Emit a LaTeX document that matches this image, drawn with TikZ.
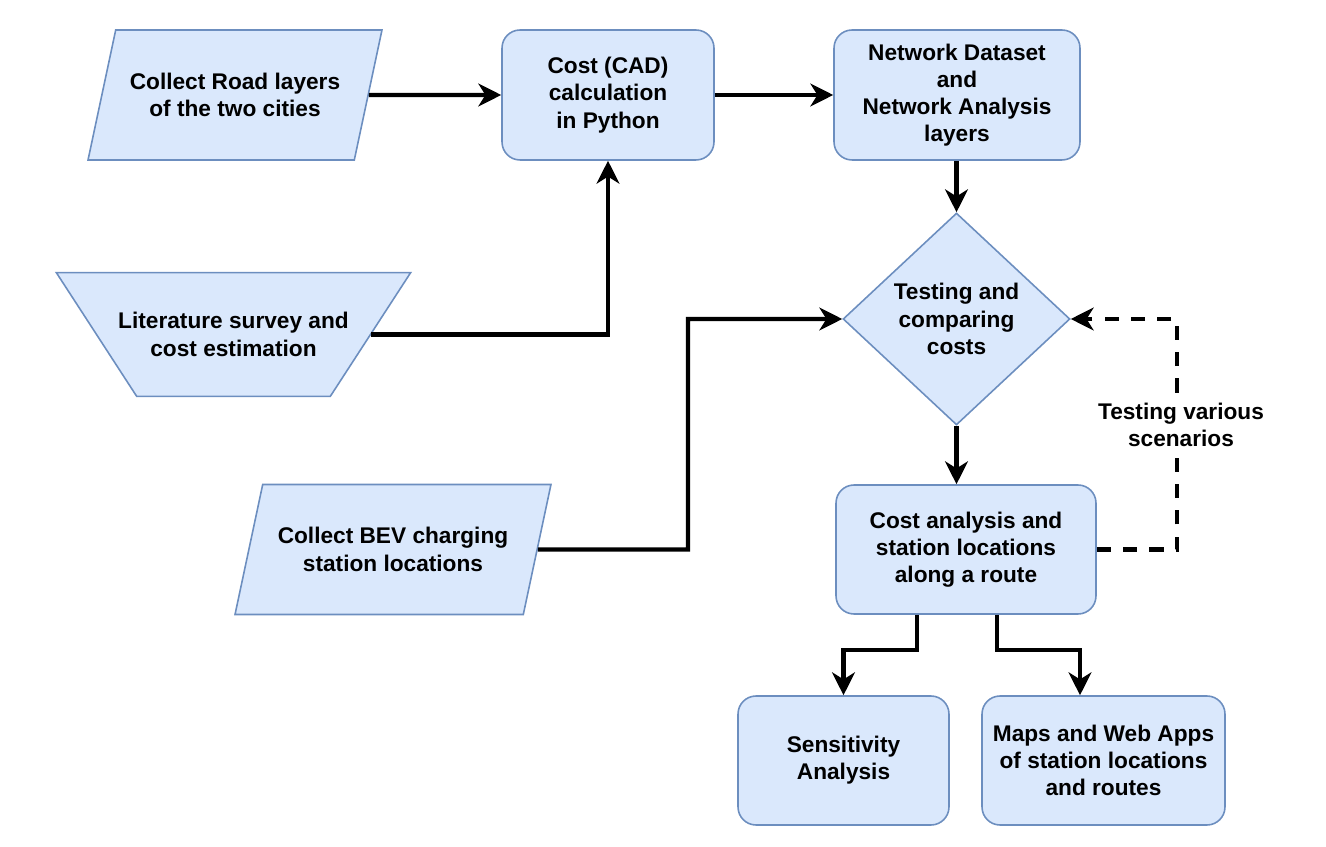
\documentclass[tikz,border=0pt]{standalone}
\usepackage{fontspec}
\setmainfont{Liberation Sans}
\usetikzlibrary{shapes.geometric, arrows.meta}
\definecolor{FlowFill}{HTML}{DAE8FC}
\definecolor{FlowLine}{HTML}{6C8EBF}
\begin{document}
\begin{tikzpicture}[x=0.02cm, y=-0.02cm,
          every node/.style={font=\fontsize{12.9pt}{15.5pt}\selectfont\bfseries, align=center},
          flowbox/.style={rectangle, rounded corners=0.36cm, draw=FlowLine, fill=FlowFill,
                          line width=0.9pt, minimum height=2.58cm, inner sep=0pt},
          datain/.style={trapezium, trapezium left angle=77, trapezium right angle=103,
                         trapezium stretches body, draw=FlowLine, fill=FlowFill,
                         line width=0.9pt, minimum height=2.6cm, inner xsep=0pt, inner ysep=0.76cm},
          manin/.style={trapezium, trapezium left angle=123, trapezium right angle=123,
                        trapezium stretches body, draw=FlowLine, fill=FlowFill,
                        line width=0.9pt, minimum height=2.46cm, inner xsep=-0.37cm, inner ysep=0.8cm},
          decide/.style={diamond, aspect=1.07, draw=FlowLine, fill=FlowFill,
                         line width=0.9pt, minimum width=4.54cm, minimum height=4.24cm, inner sep=0pt},
          arr/.style={-{Stealth[length=13pt, width=13pt, inset=4pt]}, line width=2.3pt},
          dasharr/.style={arr, dash pattern=on 8pt off 7pt}
        ]
        \useasboundingbox (0,0) rectangle (1326,847);

        % inputs
        \node[datain, minimum width=5.88cm] (road) at (235, 95)
              {Collect Road layers\\of the two cities};
        \node[manin] (lit) at (233.5, 334.5)
              {Literature survey and\\cost estimation};
        \node[datain, minimum width=6.32cm] (bev) at (393, 549.5)
              {Collect BEV charging\\station locations};

        % processing
        \node[flowbox, minimum width=4.24cm, minimum height=2.6cm] (cost) at (608, 95)
              {Cost (CAD)\\calculation\\in Python};
        \node[flowbox, minimum width=4.92cm, minimum height=2.6cm] (netw) at (957, 95)
              {Network Dataset\\and\\Network Analysis\\layers};
        \node[decide] (test) at (956.5, 319) {Testing and\\comparing\\costs};
        \node[flowbox, minimum width=5.2cm] (anal) at (966, 549.5)
              {Cost analysis and\\station locations\\along a route};

        % outputs
        \node[flowbox, minimum width=4.22cm] (sens) at (843.5, 760.5)
              {Sensitivity\\Analysis};
        \node[flowbox, minimum width=4.86cm] (maps) at (1103.5, 760.5)
              {Maps and Web Apps\\of station locations\\and routes};

        \draw[arr] (road) -- (cost);
        \draw[arr] (cost) -- (netw);
        \draw[arr] (lit.east) -| (cost.south);
        \draw[arr] (netw.south -| test.north) -- (test.north);

        \coordinate (bend) at (688, 549.5);
        \draw[arr] (bev.east) -- (bend) |- (test.west);
        \draw[arr] (test.south) -- (test.south |- anal.north);

        % feedback loop
        \coordinate (loop) at (1177, 549.5);
        \draw[dasharr] (anal.east) -- (loop) |- (test.east);
        \node[fill=white, inner xsep=1pt, inner ysep=4pt] (scen) at (1181, 425) {Testing various\\scenarios};

        \draw[arr] ([xshift=-0.98cm]anal.south) -- ++(0, 35) -| (sens.north);
        \draw[arr] ([xshift=0.62cm]anal.south) -- ++(0, 35) -| ([xshift=-0.47cm]maps.north);
      \end{tikzpicture}
\end{document}
